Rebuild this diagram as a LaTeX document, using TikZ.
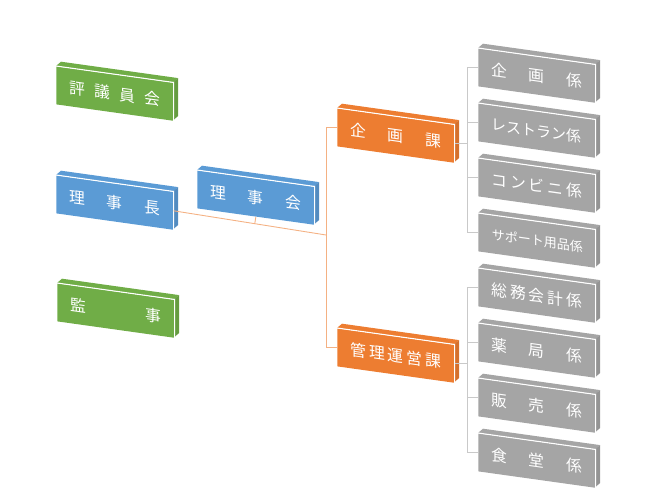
\documentclass[tikz,border=0pt]{standalone}
\usepackage{fontspec}
\setmainfont{Noto Sans CJK JP}
\usetikzlibrary{calc}
\definecolor{grn}{HTML}{70AD47}
\definecolor{blu}{HTML}{5B9BD5}
\definecolor{org}{HTML}{ED7D31}
\definecolor{gry}{HTML}{A5A5A5}
\definecolor{oln}{HTML}{F4B183}
\definecolor{gln}{HTML}{C9C9C9}

% one slanted box: name, left, top, colour, text
\newcommand\slab[5]{%
  \begin{scope}[shift={(#2,#3)},yslant=-0.14]
    \fill[#4] (0,0)--(5,-5)--(122,-5)--(117,0)--cycle;
    \fill[#4!90!black] (117,0)--(122,-5)--(122,33)--(117,38)--cycle;
    \node[slab,fill=#4] (#1) at (0,0) {#5};
    \draw[edge] (#1.north west)--(#1.north east)--(#1.south east);
  \end{scope}}
\newcommand\spread[1]{\makebox[1.8cm][s]{#1}}

\begin{document}
\begin{tikzpicture}[x=0.02cm,y=-0.02cm,
  slab/.style={anchor=north west,transform shape,inner sep=0pt,
    minimum width=2.34cm,minimum height=0.76cm,text=white,
    font=\fontsize{9}{11}\selectfont},
  edge/.style={white,line width=.6pt},
  oline/.style={oln,line width=.5pt},
  gline/.style={gln,line width=.5pt}]
\useasboundingbox (0,0) rectangle (650,492);
\slab{hyougikai}{56}{66}{grn}{\spread{評\hfill 議\hfill 員\hfill 会}}
\slab{richou}{56}{175}{blu}{\spread{理\hfill 事\hfill 長}}
\slab{kanji}{57}{283}{grn}{\spread{監\hfill 事}}
\slab{rijikai}{197}{170}{blu}{\spread{理\hfill 事\hfill 会}}
\slab{kikakuka}{337}{108}{org}{\spread{企\hfill 画\hfill 課}}
\slab{kanrika}{337}{328}{org}{\spread{管\hfill 理\hfill 運\hfill 営\hfill 課}}
\slab{kikakugakari}{478}{48}{gry}{\spread{企\hfill 画\hfill 係}}
\slab{restaurant}{478}{103}{gry}{\fontsize{8.5}{10}\selectfont\spread{レ\hfill ス\hfill ト\hfill ラ\hfill ン\hfill 係}}
\slab{konbini}{478}{158}{gry}{\spread{コ\hfill ン\hfill ビ\hfill ニ\hfill 係}}
\slab{support}{478}{213}{gry}{\fontsize{7.4}{9}\selectfont\spread{サ\hfill ポ\hfill ー\hfill ト\hfill 用\hfill 品\hfill 係}}
\slab{soumu}{478}{268}{gry}{\spread{総\hfill 務\hfill 会\hfill 計\hfill 係}}
\slab{yakkyoku}{478}{323}{gry}{\spread{薬\hfill 局\hfill 係}}
\slab{hanbai}{478}{378}{gry}{\spread{販\hfill 売\hfill 係}}
\slab{shokudou}{478}{433}{gry}{\spread{食\hfill 堂\hfill 係}}
% connectors
\coordinate (obus) at (326,235);
\coordinate (gbus) at (467,0);
\draw[oline] (richou.east)--(obus);
\draw[oline] (rijikai.south)--($(richou.east)!(rijikai.south)!(obus)$);
\draw[oline] (kikakuka.west -| obus)--(kanrika.west -| obus);
\draw[oline] (kikakuka.west -| obus)--(kikakuka.west);
\draw[oline] (kanrika.west -| obus)--(kanrika.west);
\draw[gline] (kikakuka.east)--(kikakuka.east -| gbus);
\draw[gline] (kikakugakari.west -| gbus)--(support.west -| gbus);
\foreach \g in {kikakugakari,restaurant,konbini,support}
  \draw[gline] (\g.west -| gbus)--(\g.west);
\draw[gline] (kanrika.east)--(kanrika.east -| gbus);
\draw[gline] (soumu.west -| gbus)--(shokudou.west -| gbus);
\foreach \g in {soumu,yakkyoku,hanbai,shokudou}
  \draw[gline] (\g.west -| gbus)--(\g.west);
\end{tikzpicture}
\end{document}
